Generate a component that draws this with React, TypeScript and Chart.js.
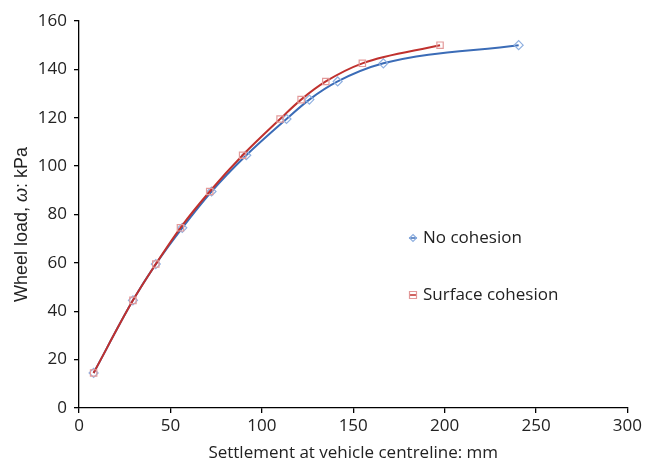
import React, { useEffect, useRef } from "react";
import { Chart, registerables } from "chart.js";

Chart.register(...registerables);

const noCohesionX = [8, 29.5, 42, 56.5, 72.5, 91.5, 113.5, 126, 141.5, 166.5, 240.5];
const noCohesionY = [14.5, 44.5, 59.5, 74.5, 89.5, 104.5, 119.5, 127.5, 135, 142.5, 150];
const surfaceX = [8, 29.5, 42, 55.5, 71.5, 89.5, 110, 121.5, 135, 155, 197.5];
const surfaceY = [14.5, 44.5, 59.5, 74.5, 89.5, 104.5, 119.5, 127.5, 135, 142.5, 150];
const seriesNames = ["No cohesion", "Surface cohesion"];
const xTitle = "Settlement at vehicle centreline: mm";

const FONT = "'Open Sans', 'Noto Sans', sans-serif";
const YFONT = "'Liberation Sans', Arial, sans-serif";
const BLUE = "#3b6cb7";
const RED = "#c0312e";
const BLUE_M = "#8fb0e0";
const RED_M = "#e39a9a";

const yTitlePlugin = {
  id: "yTitle",
  afterDraw(chart: any) {
    const ctx = chart.ctx;
    const area = chart.chartArea;
    const cy = (area.top + area.bottom) / 2 + 10;
    ctx.save();
    ctx.translate(22, cy);
    ctx.rotate(-Math.PI / 2);
    ctx.fillStyle = "#222";
    ctx.textBaseline = "middle";
    const parts = [
      { t: "Wheel load, ", f: `18px ${YFONT}` },
      { t: "ω", f: `italic 18px ${YFONT}` },
      { t: ": kPa", f: `18px ${YFONT}` },
    ];
    let total = 0;
    for (const p of parts) {
      ctx.font = p.f;
      total += ctx.measureText(p.t).width;
    }
    let x = -total / 2;
    ctx.textAlign = "left";
    for (const p of parts) {
      ctx.font = p.f;
      ctx.fillText(p.t, x, 0);
      x += ctx.measureText(p.t).width;
    }
    ctx.restore();
  },
};

const legendPlugin = {
  id: "customLegend",
  afterDraw(chart: any) {
    const ctx = chart.ctx;
    const items = [
      { name: seriesNames[0], color: BLUE, mcolor: BLUE_M, shape: "diamond", y: 238 },
      { name: seriesNames[1], color: RED, mcolor: RED_M, shape: "square", y: 295 },
    ];
    ctx.save();
    for (const it of items) {
      const mx = 413;
      ctx.strokeStyle = it.color;
      ctx.lineWidth = 1.5;
      ctx.beginPath();
      ctx.moveTo(mx - 4, it.y);
      ctx.lineTo(mx + 4, it.y);
      ctx.stroke();
      ctx.strokeStyle = it.mcolor;
      ctx.lineWidth = 1.2;
      ctx.beginPath();
      if (it.shape === "diamond") {
        ctx.moveTo(mx, it.y - 3.5);
        ctx.lineTo(mx + 3.5, it.y);
        ctx.lineTo(mx, it.y + 3.5);
        ctx.lineTo(mx - 3.5, it.y);
        ctx.closePath();
      } else {
        ctx.rect(mx - 3.5, it.y - 3.5, 7, 7);
      }
      ctx.stroke();
      ctx.fillStyle = "#222";
      ctx.font = `17px ${FONT}`;
      ctx.textAlign = "left";
      ctx.textBaseline = "middle";
      ctx.fillText(it.name, 423, it.y);
    }
    ctx.restore();
  },
};

export default function App() {
  const ref = useRef<HTMLCanvasElement>(null);
  useEffect(() => {
    document.body.style.margin = "0";
    const chart = new Chart(ref.current!, {
      type: "line",
      data: {
        datasets: [
          {
            label: seriesNames[1],
            data: surfaceX.map((x, i) => ({ x, y: surfaceY[i] })),
            borderColor: RED,
            borderWidth: 2,
            pointStyle: "rect",
            pointRadius: 4.5,
            pointBorderColor: RED_M,
            pointBackgroundColor: "rgba(0,0,0,0)",
            pointBorderWidth: 1.2,
            cubicInterpolationMode: "monotone",
            order: 0,
          },
          {
            label: seriesNames[0],
            data: noCohesionX.map((x, i) => ({ x, y: noCohesionY[i] })),
            borderColor: BLUE,
            borderWidth: 2,
            pointStyle: "rectRot",
            pointRadius: 4.5,
            pointBorderColor: BLUE_M,
            pointBackgroundColor: "rgba(0,0,0,0)",
            pointBorderWidth: 1.2,
            cubicInterpolationMode: "monotone",
            order: 1,
          },
        ],
      },
      options: {
        animation: false,
        responsive: false,
        layout: { padding: { top: 21, right: 17, left: 0, bottom: 0 } },
        plugins: { legend: { display: false }, tooltip: { enabled: false } },
        scales: {
          x: {
            type: "linear",
            min: 0,
            max: 300,
            ticks: { stepSize: 50, color: "#222", font: { family: FONT, size: 17 }, padding: 3 },
            grid: { display: true, drawOnChartArea: false, drawTicks: true, tickLength: 5, color: "#000", lineWidth: 1.3 },
            border: { display: true, color: "#000", width: 1.3 },
            title: { display: true, text: xTitle, color: "#222", font: { family: FONT, size: 17 }, padding: { top: 0, bottom: 0 } },
            afterFit(scale: any) {
              scale.height = 55;
            },
          },
          y: {
            min: 0,
            max: 160,
            ticks: { stepSize: 20, color: "#222", font: { family: FONT, size: 17 }, padding: 7 },
            grid: { display: true, drawOnChartArea: false, drawTicks: true, tickLength: 5, color: "#000", lineWidth: 1.3 },
            border: { display: true, color: "#000", width: 1.3 },
            afterFit(scale: any) {
              scale.width = 79;
            },
          },
        },
      },
      plugins: [yTitlePlugin, legendPlugin],
    } as any);
    return () => chart.destroy();
  }, []);
  return (
    <div style={{ position: "absolute", left: 0, top: 0, width: 645, height: 463, background: "#fff" }}>
      <canvas ref={ref} width={645} height={463} style={{ width: 645, height: 463 }} />
    </div>
  );
}
